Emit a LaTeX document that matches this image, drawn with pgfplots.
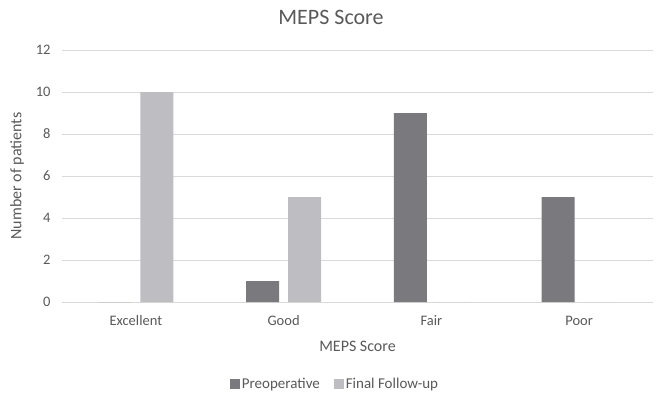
\documentclass[border=0pt]{standalone}
\usepackage{pgfplots}
\pgfplotsset{compat=1.18}
\usepackage{fontspec}
\setmainfont{Carlito}
\definecolor{darkbar}{RGB}{122,122,126}
\definecolor{lightbar}{RGB}{190,190,194}
\definecolor{txt}{RGB}{89,89,89}
\definecolor{gridc}{RGB}{217,217,217}
\begin{document}
\begin{tikzpicture}
\path (0,0) rectangle (657pt,397pt);
\node[text=txt, font=\fontsize{22}{26}\selectfont] at (331pt,380pt) {MEPS Score};
\begin{axis}[
  at={(62pt,95pt)}, anchor=south west,
  scale only axis, width=591pt, height=252pt,
  ybar=9pt, bar width=33pt,
  xmin=-0.5, xmax=3.5, ymin=0, ymax=12,
  ytick={0,2,...,12},
  xtick={0,1,2,3}, xticklabels={Excellent,Good,Fair,Poor},
  axis line style={draw=none},
  major tick style={draw=none},
  ymajorgrids, grid style={gridc, line width=0.8pt},
  tick label style={text=txt, font=\fontsize{14.5}{17}\selectfont},
  /pgf/number format/assume math mode=true,
  yticklabel style={xshift=-8pt},
  xticklabel style={yshift=-6pt},
  xlabel={MEPS Score}, ylabel={Number of patients},
  label style={text=txt, font=\fontsize{16}{19}\selectfont},
  xlabel style={yshift=-8pt},
  ylabel style={yshift=5pt},
  legend columns=2,
  legend style={draw=none, at={(0.462,-0.325)}, anchor=center,
    font=\fontsize{15}{18}\selectfont, text=txt,
    /tikz/every even column/.append style={column sep=12pt}},
  legend image code/.code={\fill[#1] (0pt,-5pt) rectangle (10pt,5pt);},
]
\addplot[fill=darkbar, draw=none] coordinates {(0,0) (1,1) (2,9) (3,5)};
\addplot[fill=lightbar, draw=none] coordinates {(0,10) (1,5) (2,0) (3,0)};
\legend{Preoperative, Final Follow-up}
\end{axis}
\end{tikzpicture}
\end{document}
